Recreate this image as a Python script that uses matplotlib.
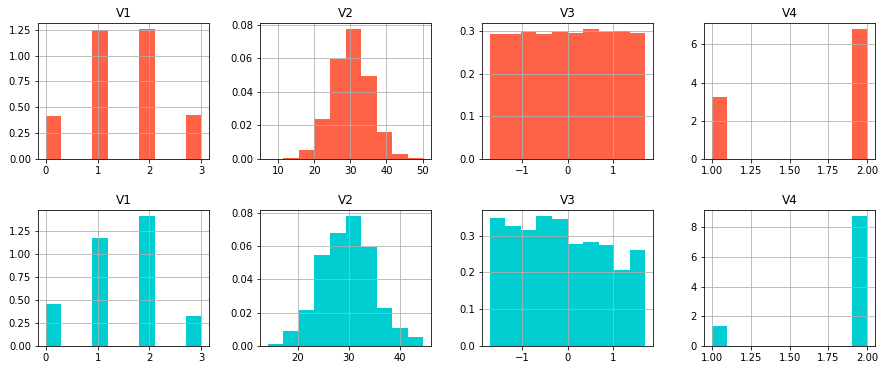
import numpy as np
import matplotlib
matplotlib.use("Agg")
import matplotlib.pyplot as plt

titles = ["V1", "V2", "V3", "V4"]
colors = ["#FF6347", "#00CED1"]

# bin ranges (min, max) per variable, per row; 10 bins each
ranges_top = [(0.0, 3.0), (7.06, 50.2), (-1.72, 1.71), (1.0, 2.0)]
ranges_bot = [(0.0, 3.0), (14.05, 44.64), (-1.72, 1.71), (1.0, 2.0)]

# density heights (10 bins)
v1_top = [0.415, 0, 0, 1.248, 0, 0, 1.252, 0, 0, 0.425]
v2_top = [0.0001, 0.0005, 0.0052, 0.0238, 0.0596, 0.0772, 0.0493, 0.0160, 0.0030, 0.0006]
v3_top = [0.293, 0.293, 0.299, 0.2935, 0.2985, 0.296, 0.3045, 0.299, 0.302, 0.2955]
v4_top = [3.22, 0, 0, 0, 0, 0, 0, 0, 0, 6.78]

v1_bot = [0.458, 0, 0, 1.167, 0, 0, 1.404, 0, 0, 0.327]
v2_bot = [0.0014, 0.0092, 0.0217, 0.0545, 0.0677, 0.0778, 0.0593, 0.0229, 0.0109, 0.0056]
v3_bot = [0.3468, 0.325, 0.315, 0.352, 0.345, 0.2766, 0.282, 0.274, 0.2063, 0.2604]
v4_bot = [1.34, 0, 0, 0, 0, 0, 0, 0, 0, 8.72]

rows = [
    (ranges_top, [v1_top, v2_top, v3_top, v4_top], colors[0]),
    (ranges_bot, [v1_bot, v2_bot, v3_bot, v4_bot], colors[1]),
]

fig, axes = plt.subplots(2, 4, figsize=(896 / 72, 370 / 72), dpi=72)
fig.subplots_adjust(left=0.0424, right=0.9766, top=0.9378, bottom=0.0649,
                    wspace=0.298, hspace=0.375)

for r, (rngs, vals, col) in enumerate(rows):
    for c in range(4):
        ax = axes[r, c]
        lo, hi = rngs[c]
        edges = np.linspace(lo, hi, 11)
        h = np.array(vals[c], dtype=float)
        ax.hist(edges[:-1], bins=edges, weights=h, color=col)
        ax.set_title(titles[c], fontsize=12)
        ax.grid(True)
        ax.tick_params(labelsize=10)

fig.savefig("out.png", dpi=72)
